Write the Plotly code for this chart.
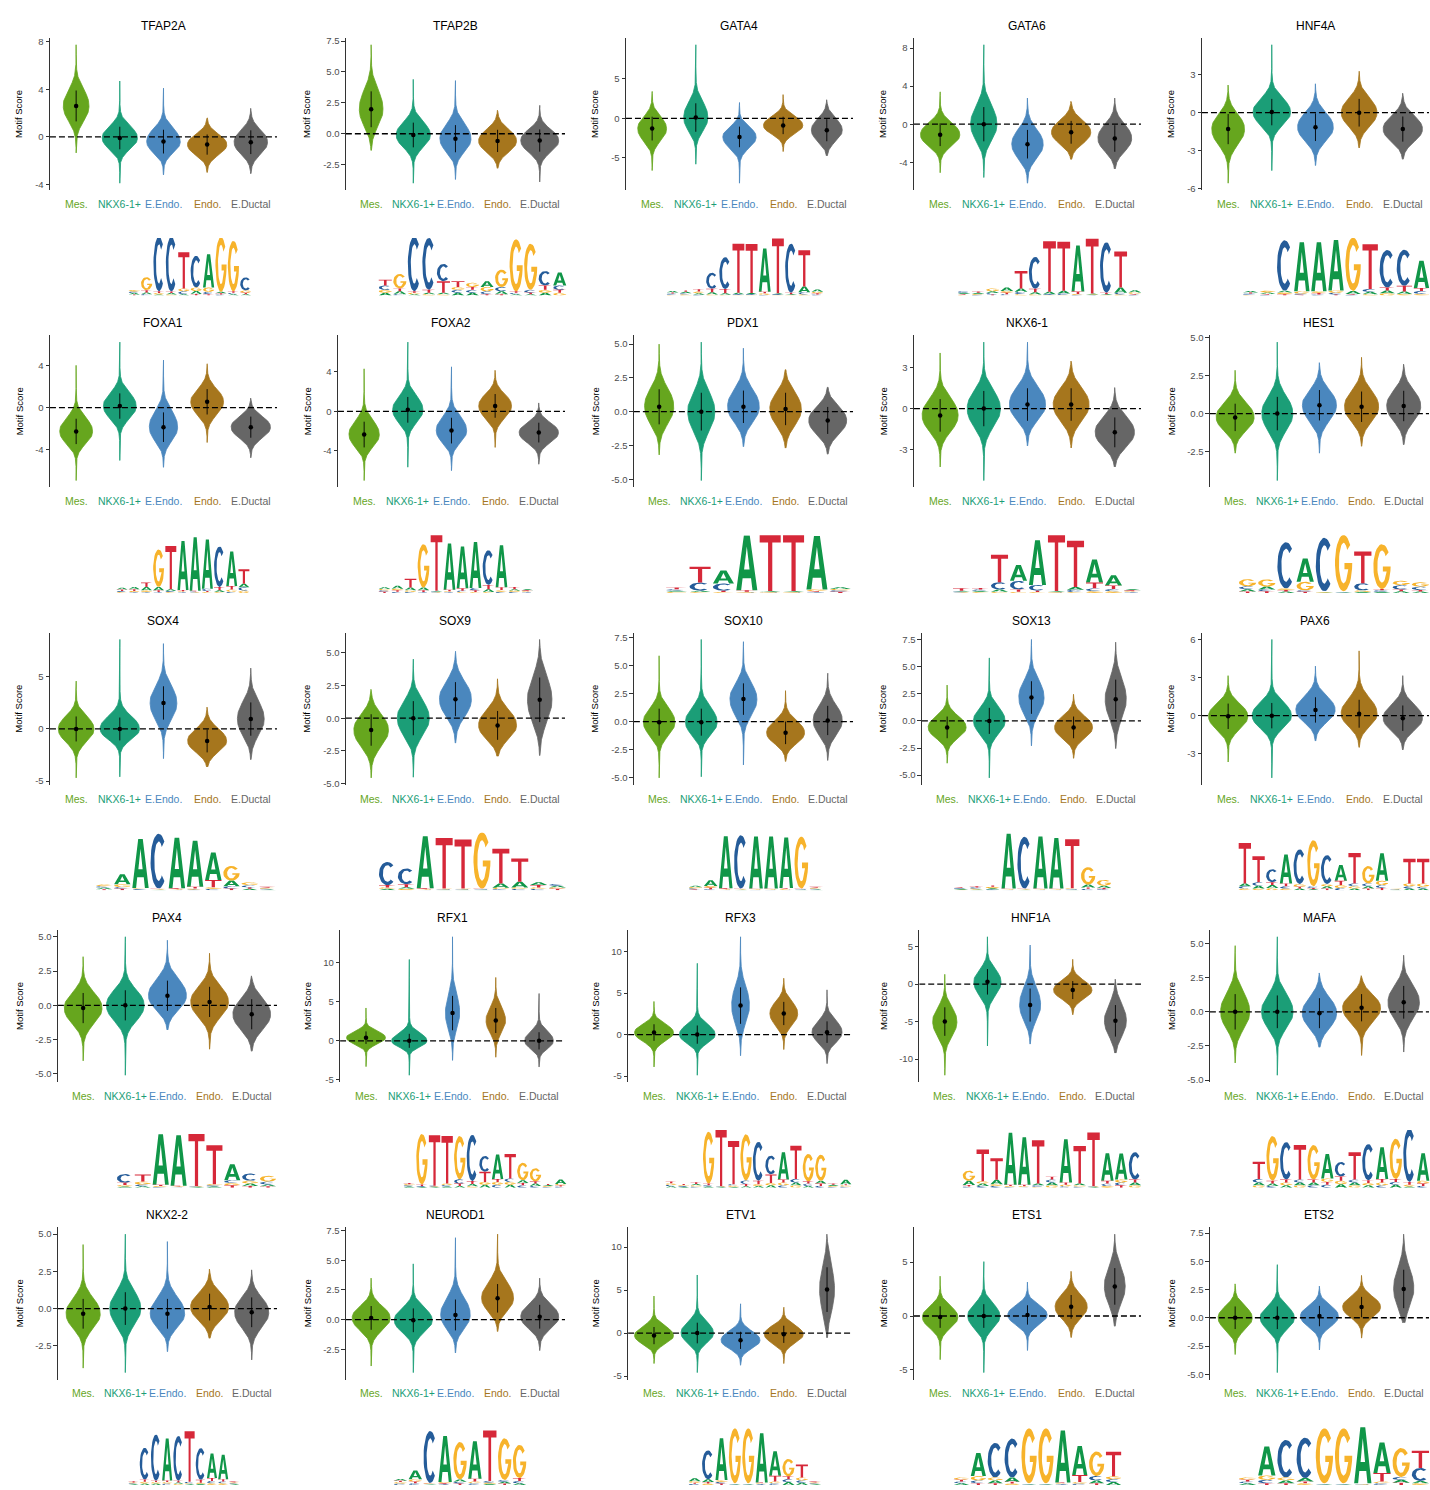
import numpy as np
import plotly.graph_objects as go

# ---------------------------------------------------------------- data
CELL_TYPES = ["Mes.", "NKX6-1+", "E.Endo.", "Endo.", "E.Ductal"]
CELL_COLORS = ["#66A61E", "#1B9E77", "#4A87BE", "#A6761D", "#666666"]

MOTIFS = ["TFAP2A", "TFAP2B", "GATA4", "GATA6", "HNF4A",
          "FOXA1", "FOXA2", "PDX1", "NKX6-1", "HES1",
          "SOX4", "SOX9", "SOX10", "SOX13", "PAX6",
          "PAX4", "RFX1", "RFX3", "HNF1A", "MAFA",
          "NKX2-2", "NEUROD1", "ETV1", "ETS1", "ETS2"]

# centre of each motif-score distribution (dot), per cell type
CENTER = [
    [2.6, -0.1, -0.4, -0.65, -0.45], [1.98, -0.1, -0.4, -0.58, -0.55],
    [-1.3, 0.1, -2.35, -0.9, -1.5], [-1.1, 0.0, -2.1, -0.85, -1.5],
    [-1.3, 0.05, -1.15, 0.0, -1.3],
    [-2.25, 0.15, -1.85, 0.55, -1.85], [-2.35, 0.15, -1.95, 0.55, -2.15],
    [0.36, 0.0, 0.36, 0.2, -0.65], [-0.5, 0.0, 0.3, 0.3, -1.75],
    [-0.25, 0.0, 0.55, 0.45, 0.5],
    [0.0, 0.0, 2.5, -1.15, 0.95], [-0.9, 0.0, 1.45, -0.55, 1.4],
    [-0.05, -0.05, 2.0, -1.0, 0.1], [-0.6, 0.0, 2.15, -0.6, 2.0],
    [-0.05, 0.0, 0.45, 0.15, -0.2],
    [-0.2, 0.0, 0.7, 0.25, -0.65], [0.4, 0.0, 3.55, 2.6, 0.0],
    [0.25, 0.0, 3.5, 2.55, 0.3], [-5.0, 0.3, -2.8, -0.8, -4.9],
    [0.0, 0.0, -0.1, 0.3, 0.7],
    [-0.35, 0.0, -0.35, 0.1, -0.25], [0.15, -0.05, 0.4, 1.8, 0.25],
    [-0.3, 0.0, -0.85, -0.15, 5.05], [-0.1, 0.0, 0.1, 0.85, 2.75],
    [0.0, 0.0, 0.15, 0.95, 2.55],
]
# standard deviation (half length of the black bar)
SPREAD = [
    [1.3, 0.95, 1.0, 0.85, 1.0], [1.45, 1.0, 1.1, 0.9, 0.9],
    [1.5, 1.8, 1.3, 1.1, 1.4], [1.2, 1.8, 1.5, 1.2, 1.4],
    [1.2, 1.05, 1.1, 1.1, 1.0],
    [1.2, 1.2, 1.4, 1.2, 1.0], [1.3, 1.3, 1.3, 1.2, 1.0],
    [1.3, 1.4, 1.2, 1.2, 1.0], [1.2, 1.3, 1.2, 1.2, 1.1],
    [0.9, 1.1, 1.0, 1.0, 1.0],
    [1.2, 1.1, 1.6, 1.1, 1.6], [1.2, 1.3, 1.3, 1.1, 1.7],
    [1.2, 1.2, 1.4, 1.0, 1.3], [1.0, 1.2, 1.5, 1.0, 1.8],
    [1.0, 1.0, 1.0, 1.1, 1.0],
    [1.1, 1.1, 1.1, 1.1, 1.1], [0.8, 0.9, 2.2, 1.6, 1.1],
    [1.0, 1.1, 2.2, 1.4, 1.3], [1.9, 1.7, 2.2, 1.2, 2.1],
    [1.3, 1.2, 1.1, 1.0, 1.2],
    [1.0, 1.1, 1.0, 0.9, 1.0], [1.0, 1.0, 1.3, 1.2, 1.0],
    [1.0, 1.2, 1.0, 1.0, 2.6], [1.0, 1.1, 0.9, 1.1, 1.7],
    [1.0, 1.0, 0.9, 0.9, 1.7],
]
# lowest and highest observed motif scores
LOWEST = [
    [-1.35, -3.9, -3.2, -3.0, -3.1], [-1.35, -4.0, -3.7, -2.8, -3.9],
    [-6.6, -5.8, -8.2, -4.2, -4.75], [-5.1, -5.6, -6.2, -3.7, -4.7],
    [-5.6, -4.6, -4.2, -2.8, -3.7],
    [-6.9, -5.0, -5.65, -3.3, -4.75], [-7.0, -5.65, -6.0, -3.65, -5.35],
    [-3.2, -5.1, -2.6, -2.7, -3.15], [-4.3, -5.3, -2.75, -2.9, -4.3],
    [-2.6, -4.4, -2.6, -2.15, -2.05],
    [-4.7, -4.6, -2.85, -3.65, -2.95], [-4.55, -4.5, -1.9, -2.9, -2.85],
    [-5.0, -4.9, -3.85, -3.55, -3.45], [-3.9, -5.25, -2.3, -3.45, -2.55],
    [-3.65, -4.9, -2.0, -2.5, -2.7],
    [-4.05, -5.1, -1.8, -3.2, -3.35], [-3.3, -4.4, -2.5, -2.1, -3.35],
    [-3.9, -4.9, -2.55, -1.8, -3.5], [-12.15, -8.25, -8.0, -4.1, -9.2],
    [-3.75, -4.65, -2.6, -3.2, -2.95],
    [-4.0, -4.3, -2.9, -2.0, -3.45], [-3.9, -4.45, -2.8, -1.0, -2.6],
    [-3.55, -4.6, -3.75, -3.55, -0.55], [-4.05, -5.25, -3.2, -2.0, -0.95],
    [-3.25, -4.85, -2.85, -1.8, -0.45],
]
HIGHEST = [
    [7.75, 4.7, 4.1, 1.6, 2.4], [7.2, 4.4, 4.3, 1.9, 2.3],
    [3.4, 9.3, 2.0, 3.0, 2.35], [3.4, 8.35, 2.75, 2.4, 2.75],
    [2.2, 5.4, 2.3, 3.3, 1.55],
    [4.0, 6.2, 4.5, 4.15, 0.9], [4.3, 7.0, 4.5, 4.15, 0.85],
    [5.0, 5.15, 4.7, 3.1, 1.8], [4.1, 4.9, 4.9, 3.5, 1.55],
    [2.85, 4.7, 3.35, 3.7, 3.25],
    [4.6, 8.6, 8.2, 2.1, 5.85], [2.2, 4.5, 5.1, 3.0, 6.0],
    [5.85, 7.3, 7.1, 2.75, 4.3], [3.3, 5.8, 7.5, 2.45, 7.25],
    [3.15, 6.0, 3.9, 5.1, 3.15],
    [3.55, 5.0, 4.75, 3.8, 2.15], [4.2, 10.4, 13.3, 8.1, 6.05],
    [4.0, 8.6, 11.8, 6.8, 5.4], [1.3, 6.3, 5.2, 3.3, 0.65],
    [4.85, 5.5, 2.85, 2.65, 4.15],
    [4.3, 5.0, 4.5, 2.65, 2.6], [3.5, 4.7, 6.9, 7.2, 3.5],
    [4.3, 6.75, 3.4, 3.0, 11.5], [3.7, 5.05, 3.15, 4.15, 7.6],
    [3.0, 4.7, 2.8, 3.75, 7.4],
]
Y_TICKS = [
    [-4, 0, 4, 8], [-2.5, 0, 2.5, 5, 7.5], [-5, 0, 5], [-4, 0, 4, 8], [-6, -3, 0, 3],
    [-4, 0, 4], [-4, 0, 4], [-5, -2.5, 0, 2.5, 5], [-3, 0, 3], [-2.5, 0, 2.5, 5],
    [-5, 0, 5], [-5, -2.5, 0, 2.5, 5], [-5, -2.5, 0, 2.5, 5, 7.5],
    [-5, -2.5, 0, 2.5, 5, 7.5], [-3, 0, 3, 6],
    [-5, -2.5, 0, 2.5, 5], [-5, 0, 5, 10], [-5, 0, 5, 10], [-10, -5, 0, 5],
    [-5, -2.5, 0, 2.5, 5],
    [-2.5, 0, 2.5, 5], [-2.5, 0, 2.5, 5, 7.5], [-5, 0, 5, 10], [-5, 0, 5],
    [-5, -2.5, 0, 2.5, 5, 7.5],
]

# motif logos: one entry per position, letter heights in bits
LOGO_TFAP2A = ["A.05 C.05 G.06 T.04", "C.05 A.06 T.08 G.45", "A.04 G.05 T.06 C1.9",
               "G.04 A.05 T.05 C1.9", "A.05 C.1 G.1 T1.25", "T.06 A.1 G.12 C1.1",
               "T.05 C.08 G.15 A1.15", "C.04 T.04 A.05 G1.9", "A.05 C.05 T.05 G1.75",
               "A.05 T.05 G.08 C.45"]
LOGO_TFAP2B = ["A.1 G.1 C.15 T.2", "C.05 A.1 T.1 G.5", "A.05 G.05 T.05 C1.9",
               "G.05 A.05 T.1 C1.8", "G.05 A.05 T.4 C.6", "A.1 C.1 G.1 T.2",
               "A.1 C.1 T.1 G.15", "T.05 C.1 G.15 A.2", "T.05 A.1 C.15 G.6",
               "A.05 C.05 T.05 G1.8", "A.05 T.05 C.1 G1.6", "A.1 G.1 T.15 C.5",
               "G.1 T.1 C.15 A.45"]
LOGO_GATA4 = ["G.03 C.04 T.04 A.05", "G.04 C.04 A.05 T.05", "C.03 A.05 G.06 T.08",
              "G.04 A.08 T.12 C.55", "G.03 A.05 T.15 C1.1", "G.02 C.03 A.05 T1.7",
              "G.02 C.03 A.04 T1.7", "C.03 G.05 T.05 A1.5", "G.02 C.03 A.03 T1.9",
              "G.02 A.03 T.05 C1.7", "G.04 C.08 A.2 T1.25", "C.04 T.04 G.05 A.08"]
LOGO_GATA6 = ["G.03 T.03 A.04 C.05", "C.03 G.03 A.04 T.04", "T.04 C.05 A.06 G.1",
              "C.05 T.05 G.06 A.12", "G.05 C.08 A.12 T.6", "G.04 A.08 T.12 C1.1",
              "G.02 C.03 A.08 T1.75", "G.02 C.05 A.1 T1.7", "C.03 G.03 T.08 A1.6",
              "C.02 G.02 A.03 T1.9", "G.02 A.03 T.05 C1.75", "G.04 C.06 A.18 T1.25",
              "C.03 T.03 G.05 A.08"]
LOGO_HNF4A = ["G.03 C.04 T.04 A.05", "C.03 T.03 A.05 G.06", "T.05 G.06 A.06 C1.75",
              "T.03 C.04 G.08 A1.7", "C.04 T.05 G.06 A1.7", "T.04 C.06 G.08 A1.75",
              "C.03 T.03 A.1 G1.85", "G.05 A.08 C.1 T1.55", "G.08 A.1 T.1 C1.3",
              "G.06 A.08 T.2 C1.25", "G.06 C.1 T.1 A.95"]
LOGO_FOXA1 = ["G.03 C.04 T.05 A.06", "C.03 G.04 T.06 A.08", "C.03 G.06 A.12 T.15",
              "C.03 T.06 A.12 G1.3", "G.03 C.04 A.06 T1.5", "C.03 G.03 T.04 A1.7",
              "G.02 C.03 T.03 A1.85", "G.03 T.04 C.08 A1.7", "G.03 A.06 T.12 C1.4",
              "C.04 G.08 T.12 A1.2", "G.08 C.12 A.12 T.5"]
LOGO_FOXA2 = ["T.04 C.05 G.05 A.06", "C.04 T.05 G.06 A.1", "C.04 G.05 A.1 T.3",
              "C.03 T.06 A.1 G1.5", "C.03 G.02 A.03 T1.95", "C.03 G.03 T.05 A1.6",
              "G.03 C.05 T.08 A1.45", "G.03 T.06 C.08 A1.6", "G.03 A.1 T.15 C1.2",
              "C.04 G.06 T.1 A1.45", "C.04 G.04 A.05 T.08", "C.03 G.03 T.03 A.04"]
LOGO_PDX1 = ["G.04 A.04 C.05 T.06", "G.03 A.05 C.28 T.55", "G.03 T.05 C.25 A.45",
             "C.02 G.02 T.05 A1.9", "C.02 G.02 A.03 T1.95", "C.02 G.02 A.03 T1.95",
             "C.03 T.03 G.06 A1.85", "T.04 C.05 G.05 A.06"]
LOGO_NKX61 = ["C.03 G.02 A.03 T.08", "G.03 A.04 C.05 T.05", "G.04 A.08 C.25 T.95",
              "G.04 T.08 C.3 A.55", "G.03 T.05 C.2 A1.55", "C.02 G.02 A.03 T1.95",
              "G.03 C.08 A.1 T1.6", "G.06 C.1 T.2 A.8", "G.06 C.08 T.12 A.35",
              "C.03 G.03 T.03 A.04"]
LOGO_HES1 = ["T.05 A.08 C.1 G.25", "T.06 C.06 A.1 G.25", "A.05 T.05 G.06 C1.6",
             "T.04 C.05 G.3 A.8", "A.02 G.02 T.02 C1.85", "A.02 C.02 T.02 G1.95",
             "A.04 G.05 C.25 T1.1", "A.04 C.05 T.05 G1.55", "A.06 T.06 C.15 G.15",
             "A.05 T.05 C.12 G.15"]
LOGO_SOX4 = ["T.04 A.05 C.05 G.06", "T.05 C.06 G.1 A.35", "T.02 C.03 G.03 A1.7",
             "A.02 G.02 T.02 C1.9", "C.02 G.02 T.03 A1.75", "C.03 G.03 T.06 A1.6",
             "C.05 G.06 T.25 A.95", "T.06 C.08 A.2 G.5", "A.05 T.05 C.08 G.1",
             "A.03 C.03 G.03 T.03"]
LOGO_SOX9 = ["A.05 G.05 T.08 C.8", "G.05 A.06 T.1 C.55", "C.02 G.02 T.03 A1.8",
             "A.02 C.02 G.02 T1.75", "A.02 C.02 G.02 T1.7", "A.02 C.02 T.02 G1.95",
             "C.04 G.05 A.15 T1.2", "C.05 G.05 A.2 T.8", "C.05 G.05 T.08 A.1",
             "T.05 G.05 A.06 C.06"]
LOGO_SOX10 = ["T.03 C.04 G.04 A.05", "C.04 T.05 G.06 A.2", "C.02 G.02 T.03 A1.8",
              "A.02 G.02 T.02 C1.85", "C.02 G.02 T.02 A1.8", "C.02 G.02 T.02 A1.8",
              "C.02 G.03 T.03 A1.75", "A.02 C.02 T.02 G1.8", "A.03 C.03 G.03 T.03"]
LOGO_SOX13 = ["G.02 A.03 C.03 T.03", "A.03 G.03 C.04 T.04", "C.03 A.04 G.05 T.05",
              "C.02 G.02 T.02 A1.9", "A.02 G.02 T.02 C1.8", "C.02 G.02 T.02 A1.8",
              "C.02 G.02 T.02 A1.75", "A.02 C.02 G.03 T1.7", "C.05 T.05 A.1 G.6",
              "C.04 T.04 A.08 G.2"]
LOGO_PAX6 = ["G.06 C.08 A.1 T1.4", "G.06 A.1 C.12 T.9", "G.08 A.1 T.1 C.45",
             "G.06 C.08 T.1 A1.0", "A.06 T.06 G.1 C1.2", "A.04 T.04 C.06 G1.6",
             "T.06 A.08 G.08 C1.0", "C.08 G.1 T.15 A.55", "A.06 G.08 C.1 T1.05",
             "T.06 A.08 C.1 G.6", "T.08 C.1 G.15 A.95", "A.02 C.02 G.02 T.02",
             "A.06 C.08 G.1 T.85", "A.06 C.06 G.12 T.85"]
LOGO_PAX4 = ["A.04 G.05 T.08 C.3", "A.05 C.06 G.1 T.25", "C.03 G.03 T.04 A1.75",
             "C.02 G.02 T.03 A1.75", "A.02 C.02 G.02 T1.8", "A.04 C.04 G.04 T1.35",
             "T.08 G.08 C.1 A.55", "T.06 A.08 G.1 C.25", "T.05 A.06 C.1 G.2"]
LOGO_RFX1 = ["A.04 C.04 G.04 T.04", "A.03 C.03 T.05 G1.75", "A.02 G.02 C.03 T1.75",
             "A.04 C.05 G.05 T1.65", "A.06 T.08 C.15 G1.5", "G.05 A.08 T.1 C1.6",
             "A.1 G.1 T.35 C.55", "C.1 G.1 T.1 A.85", "A.1 G.1 C.12 T.85",
             "C.08 T.08 A.1 G.6", "C.06 A.08 T.08 G.45", "C.03 G.03 A.03 T.04",
             "C.04 T.04 G.05 A.15"]
LOGO_RFX3 = ["A.05 C.05 G.05 T.06", "A.03 C.03 G.03 T.04", "C.04 G.04 A.05 T.06",
             "A.04 C.04 T.06 G1.8", "A.02 C.02 G.02 T1.95", "A.03 G.04 C.05 T1.5",
             "A.05 T.08 C.12 G1.6", "A.06 G.06 T.12 C1.35", "A.08 G.08 T.3 C.65",
             "C.08 G.1 T.1 A.95", "A.1 G.08 C.12 T1.15", "A.06 C.08 T.08 G.95",
             "C.06 T.08 A.1 G.9", "C.03 G.03 A.04 T.04", "C.04 G.04 T.04 A.15"]
LOGO_HNF1A = ["C.04 T.05 A.15 G.35", "C.06 A.08 G.08 T1.1", "C.06 G.06 A.15 T.75",
              "C.03 G.03 T.04 A1.8", "C.02 G.03 T.05 A1.65", "G.03 C.05 A.06 T1.5",
              "G.08 A.1 C.1 T.1", "C.05 G.05 T.08 A1.5", "C.04 G.04 A.06 T1.3",
              "A.02 C.02 G.02 T1.85", "G.06 C.08 T.1 A.95", "T.08 C.1 G.1 A.9",
              "G.08 A.1 T.1 C.95"]
LOGO_MAFA = ["G.08 A.1 C.12 T.6", "C.06 A.08 T.1 G1.55", "A.08 G.1 T.1 C1.3",
             "G.08 A.1 C.1 T1.2", "C.08 A.1 T.1 G1.2", "C.1 T.1 G.12 A.85",
             "A.12 G.12 T.15 C.5", "G.08 A.1 C.1 T.95", "A.08 G.08 T.1 C1.25",
             "C.08 G.1 T.12 A1.1", "A.1 C.1 T.1 G1.4", "A.04 G.06 T.1 C1.85",
             "C.06 T.08 G.1 A.95"]
LOGO_NKX22 = ["A.03 C.03 G.03 T.04", "A.05 G.06 T.08 C1.1", "A.05 G.05 T.05 C1.6",
              "C.05 G.05 T.06 A1.45", "G.04 A.05 T.06 C1.55", "A.03 G.03 C.05 T1.75",
              "A.04 G.04 T.1 C1.1", "G.06 C.08 T.1 A.85", "G.06 T.08 C.06 A.85",
              "A.03 C.03 G.03 T.03"]
LOGO_NEUROD1 = ["C.05 G.05 T.05 A.06", "C.06 T.06 G.08 A.3", "A.02 T.02 G.03 C1.8",
                "C.03 T.03 G.04 A1.6", "T.05 C.06 A.08 G1.3", "C.06 G.06 T.1 A1.3",
                "A.04 G.04 C.06 T1.75", "T.05 A.06 C.06 G1.45", "A.06 C.08 T.1 G1.15"]
LOGO_ETV1 = ["C.04 T.04 G.05 A.1", "G.05 T.05 A.1 C1.0", "T.05 C.06 G.06 A1.45",
             "A.02 C.02 T.02 G1.9", "A.02 C.02 T.02 G1.9", "C.03 G.03 T.03 A1.7",
             "C.06 G.06 T.2 A.85", "A.1 C.1 T.1 G.6", "A.08 C.08 G.1 T.45",
             "A.03 C.03 G.03 T.03"]
LOGO_ETS1 = ["A.06 C.06 T.06 G.08", "T.06 C.1 G.15 A.8", "T.06 A.1 G.1 C1.2",
             "G.05 T.06 A.15 C1.35", "A.02 C.02 T.02 G1.9", "A.02 C.02 T.02 G1.9",
             "C.03 G.03 T.03 A1.8", "C.05 G.05 T.25 A1.0", "T.06 A.1 C.15 G.85",
             "A.1 C.1 G.1 T.85"]
LOGO_ETS2 = ["A.06 C.06 T.06 G.08", "T.06 C.12 G.15 A1.0", "T.06 A.1 G.1 C1.3",
             "G.06 T.06 A.12 C1.4", "A.02 C.02 T.02 G1.9", "A.02 C.02 T.02 G1.9",
             "C.02 G.02 T.02 A1.95", "C.06 G.06 T.3 A1.05", "T.08 A.1 C.1 G1.0",
             "G.06 A.08 C.45 T.6"]

LOGOS = [LOGO_TFAP2A, LOGO_TFAP2B, LOGO_GATA4, LOGO_GATA6, LOGO_HNF4A,
         LOGO_FOXA1, LOGO_FOXA2, LOGO_PDX1, LOGO_NKX61, LOGO_HES1,
         LOGO_SOX4, LOGO_SOX9, LOGO_SOX10, LOGO_SOX13, LOGO_PAX6,
         LOGO_PAX4, LOGO_RFX1, LOGO_RFX3, LOGO_HNF1A, LOGO_MAFA,
         LOGO_NKX22, LOGO_NEUROD1, LOGO_ETV1, LOGO_ETS1, LOGO_ETS2]

# ---------------------------------------------------------------- layout
W, H = 1430, 1490
COL_W = 288.0
ROW_H = 298.75
FONT = "Liberation Sans, Arial, Helvetica, sans-serif"
TICK_SIZE = 9.5
BASE_COLORS = {"A": "#109648", "C": "#255C99", "G": "#F7B32B", "T": "#D62839"}

# horizontal extent (px) of each logo strip
LOGO_SPAN = [
    (128, 252), (378, 567), (666, 824), (957, 1142), (1242, 1430),
    (116, 250), (378, 534), (665, 852), (952, 1142), (1238, 1430),
    (95, 277), (378, 567), (688, 824), (953, 1112), (1238, 1430),
    (116, 277), (403, 567), (665, 852), (962, 1142), (1252, 1430),
    (128, 240), (393, 527), (688, 822), (953, 1122), (1238, 1430),
]

ARIAL_W = {"-": 0.333, ".": 0.278}


def text_width(s, size):
    return sum(ARIAL_W.get(ch, 0.556) for ch in s) * size


def fx(px):
    return px / W


def fy(px):
    return 1 - px / H


# ---------------------------------------------------------------- glyphs
def arc(cx, cy, rx, ry, a0, a1, n=30):
    t = np.radians(np.linspace(a0, a1, n))
    return list(zip(cx + rx * np.cos(t), cy + ry * np.sin(t)))


_A_OUT = [(0, 0), (0.36, 1), (0.64, 1), (1, 0), (0.77, 0), (0.70, 0.22),
          (0.30, 0.22), (0.23, 0), (0, 0)]
_A_HOLE = [(0.37, 0.38), (0.63, 0.38), (0.5, 0.8), (0.37, 0.38)]
GLYPHS = {
    "A": _A_OUT + _A_HOLE + [(0, 0)],
    "C": arc(0.5, 0.5, 0.5, 0.5, 46, 314) + arc(0.5, 0.5, 0.27, 0.36, 314, 46),
    "G": arc(0.5, 0.5, 0.5, 0.5, 40, 360)
    + [(0.55, 0.5), (0.55, 0.39), (0.77, 0.39)]
    + arc(0.5, 0.5, 0.27, 0.36, 335, 40),
    "T": [(0, 1), (1, 1), (1, 0.86), (0.6, 0.86), (0.6, 0), (0.4, 0),
          (0.4, 0.86), (0, 0.86)],
}


def parse_position(entry):
    out = []
    for tok in entry.split():
        out.append((tok[0], float(tok[1:])))
    out.sort(key=lambda t: t[1])
    return out


# ---------------------------------------------------------------- violins
def violin_outline(m, sd, lo, hi):
    """Rounded, slightly flat-topped body with hair-thin tails to the extremes."""
    r = (hi - m) / (hi - lo)
    s = 1.0 * sd
    s_hi = s * (2 * r) ** 0.3
    s_lo = s * (2 * (1 - r)) ** 0.3
    y = np.linspace(lo, hi, 300)
    z = np.where(y >= m, (y - m) / s_hi, (y - m) / s_lo)
    tau_hi = (hi - m) / 2.5
    tau_lo = (m - lo) / 2.5
    zt = np.where(y >= m, (y - m) / tau_hi, (y - m) / tau_lo)
    body = np.exp(-0.5 * np.abs(z) ** 2.3)
    tail = 0.03 * (1 + zt * zt) ** -1.2
    scale = 2.0 / (s_hi + s_lo)
    return y, scale * (body + tail)


fig = go.Figure()
layout = dict(
    width=W, height=H, margin=dict(l=0, r=0, t=0, b=0),
    paper_bgcolor="white", plot_bgcolor="white", showlegend=False,
    font=dict(family=FONT, color="#000000"),
)
annotations = []
n_panels = len(MOTIFS)

for k, motif in enumerate(MOTIFS):
    r, c = divmod(k, 5)
    col_x0 = c * COL_W
    ticks = Y_TICKS[k]
    dec = 1 if any(abs(v - round(v)) > 1e-9 for v in ticks) else 0
    tick_text = [f"{v:.{dec}f}" for v in ticks]
    lab_w = max(text_width(s, TICK_SIZE) for s in tick_text)
    left = col_x0 + 41.5 + lab_w
    right = col_x0 + 277
    top = 35 + ROW_H * r
    bottom = 188 + ROW_H * r

    lo = min(LOWEST[k])
    hi = max(HIGHEST[k])
    pad = 0.05 * (hi - lo)

    ax = k + 1
    xa = "x" if ax == 1 else f"x{ax}"
    ya = "y" if ax == 1 else f"y{ax}"
    layout["xaxis" if ax == 1 else f"xaxis{ax}"] = dict(
        domain=[fx(left), fx(right)], anchor=ya, range=[0.4, 5.6],
        showticklabels=False, showline=False, ticks="", showgrid=False,
        zeroline=False, fixedrange=True,
    )
    layout["yaxis" if ax == 1 else f"yaxis{ax}"] = dict(
        domain=[fy(bottom), fy(top)], anchor=xa, range=[lo - pad, hi + pad],
        tickvals=ticks, ticktext=tick_text, ticks="outside", ticklen=3.5,
        tickwidth=0.8, tickcolor="#333333", showline=True, linecolor="#333333",
        linewidth=0.8, showgrid=False, zeroline=False,
        tickfont=dict(size=TICK_SIZE, color="#4D4D4D", family=FONT),
        fixedrange=True,
    )

    # violins, area-scaled within the panel
    shapes = [violin_outline(CENTER[k][i], SPREAD[k][i], LOWEST[k][i], HIGHEST[k][i])
              for i in range(5)]
    peak_max = max(float(np.max(d)) for _, d in shapes)
    for i, (yv, dens) in enumerate(shapes):
        hw = 0.45 * dens / peak_max
        xs = np.concatenate([i + 1 + hw, (i + 1 - hw)[::-1]])
        ys = np.concatenate([yv, yv[::-1]])
        fig.add_trace(go.Scatter(
            x=xs, y=ys, xaxis=xa, yaxis=ya, mode="lines", fill="toself",
            fillcolor=CELL_COLORS[i], line=dict(color=CELL_COLORS[i], width=0.8),
            hoverinfo="skip",
        ))

    # dashed zero reference
    fig.add_trace(go.Scatter(
        x=[0.4, 5.6], y=[0, 0], xaxis=xa, yaxis=ya, mode="lines",
        line=dict(color="black", width=1.3, dash="6px,3px"), hoverinfo="skip",
    ))

    # mean +/- sd bars and centre dots
    bx, by = [], []
    for i in range(5):
        bx += [i + 1, i + 1, None]
        by += [CENTER[k][i] - SPREAD[k][i], CENTER[k][i] + SPREAD[k][i], None]
    fig.add_trace(go.Scatter(
        x=bx, y=by, xaxis=xa, yaxis=ya, mode="lines",
        line=dict(color="black", width=0.9), hoverinfo="skip",
    ))
    fig.add_trace(go.Scatter(
        x=[1, 2, 3, 4, 5], y=CENTER[k], xaxis=xa, yaxis=ya, mode="markers",
        marker=dict(color="black", size=4.5), hoverinfo="skip",
    ))

    # titles and labels
    annotations.append(dict(
        text=motif, x=fx((left + right) / 2), y=fy(23 + ROW_H * r),
        xref="paper", yref="paper", showarrow=False, xanchor="center",
        yanchor="middle", font=dict(size=12, color="black", family=FONT),
    ))
    annotations.append(dict(
        text="Motif Score", x=fx(col_x0 + 19), y=fy((top + bottom) / 2),
        xref="paper", yref="paper", showarrow=False, textangle=-90,
        xanchor="center", yanchor="middle",
        font=dict(size=9.5, color="black", family=FONT),
    ))
    for i, lab in enumerate(CELL_TYPES):
        annotations.append(dict(
            text=lab, x=i + 1, y=fy(202 + ROW_H * r), xref=xa, yref="paper",
            showarrow=False, xanchor="center", yanchor="middle",
            font=dict(size=10.5, color=CELL_COLORS[i], family=FONT),
        ))

    # sequence logo
    lax = n_panels + k + 1
    lxa, lya = f"x{lax}", f"y{lax}"
    logo = [parse_position(p) for p in LOGOS[k]]
    n_pos = len(logo)
    x0, x1 = LOGO_SPAN[k]
    base_px = 294 + ROW_H * r
    top_px = 236 + ROW_H * r
    layout[f"xaxis{lax}"] = dict(
        domain=[fx(x0), fx(x1)], anchor=lya, range=[0.5, n_pos + 0.5],
        visible=False, fixedrange=True,
    )
    layout[f"yaxis{lax}"] = dict(
        domain=[fy(base_px), fy(top_px)], anchor=lxa, range=[0, 2],
        visible=False, fixedrange=True,
    )
    letter_paths = {b: ([], []) for b in "ACGT"}
    for j, stack in enumerate(logo):
        xc = j + 1
        y0 = 0.0
        for base, h in stack:
            gx, gy = letter_paths[base]
            for (u, v) in GLYPHS[base]:
                gx.append(xc - 0.45 + 0.9 * u)
                gy.append(y0 + h * v)
            gx.append(None)
            gy.append(None)
            y0 += h
    for base in "ACGT":
        gx, gy = letter_paths[base]
        if not gx:
            continue
        fig.add_trace(go.Scatter(
            x=gx, y=gy, xaxis=lxa, yaxis=lya, mode="lines", fill="toself",
            fillcolor=BASE_COLORS[base], line=dict(width=0, color=BASE_COLORS[base]),
            hoverinfo="skip",
        ))

layout["annotations"] = annotations
fig.update_layout(**layout)
fig.write_html("out.html")
